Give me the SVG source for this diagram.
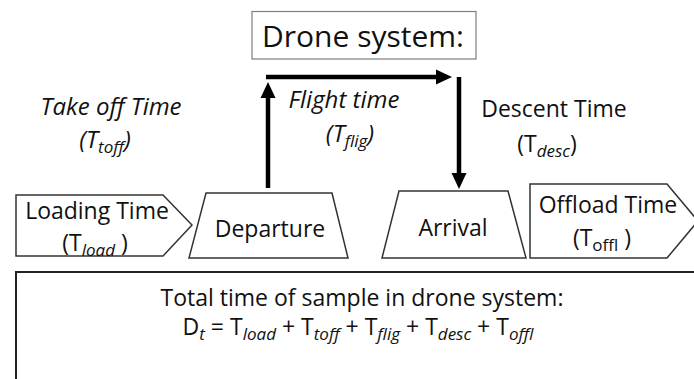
<svg xmlns="http://www.w3.org/2000/svg" width="694" height="379" viewBox="0 0 694 379">
<style>
  text { font-family: "Open Sans", "Noto Sans", sans-serif; fill: #111; text-anchor: middle; }
  .lbl { font-size: 23px; }
  .it { font-style: italic; font-size: 24px; }
  .sub { font-size: 17px; }
  .subi { font-size: 17px; font-style: italic; }
  .shape { fill: #fff; stroke: #333; stroke-width: 1.5; }
  .conn { stroke: #000; stroke-width: 4.5; fill: none; marker-end: url(#head); }
</style>
<defs>
  <marker id="head" markerUnits="userSpaceOnUse" markerWidth="16" markerHeight="16" viewBox="0 0 16 16" refX="0" refY="8" orient="auto">
    <path d="M0,0.5 L16,8 L0,15.5 z" fill="#000"/>
  </marker>
</defs>
<rect width="694" height="379" fill="#fff"/>

<g id="drone-system">
  <rect x="252" y="11.5" width="224" height="47.5" fill="#fff" stroke="#7f7f7f" stroke-width="1.2"/>
  <text x="363" y="47" style="font-size:30px">Drone system:</text>
</g>

<g id="takeoff-label">
  <text class="it" x="111" y="115">Take off Time</text>
  <text class="it" x="105" y="148">(T<tspan class="sub" dy="5">toff</tspan><tspan dy="-5">)</tspan></text>
</g>

<g id="flight-label">
  <text class="it" x="344" y="108">Flight time</text>
  <text class="it" x="350" y="142">(T<tspan class="sub" dy="5">flig</tspan><tspan dy="-5">)</tspan></text>
</g>

<g id="descent-label">
  <text class="lbl" x="554" y="117">Descent Time</text>
  <text class="lbl" x="547" y="152">(T<tspan class="subi" dy="5">desc</tspan><tspan dy="-5">)</tspan></text>
</g>

<g id="loading">
  <path class="shape" d="M16,195 H163 L192,225 L163,256 H16 Z"/>
  <text class="lbl" x="97" y="219">Loading Time</text>
  <text class="lbl" x="95" y="251">(T<tspan class="subi" dy="5">load</tspan><tspan dy="-5"> )</tspan></text>
</g>

<g id="departure">
  <path class="shape" d="M206,193 H332 L348,258 H189 Z"/>
  <text class="lbl" x="270" y="237">Departure</text>
</g>

<g id="arrival">
  <path class="shape" d="M399,191 H508 L526,258 H382 Z"/>
  <text class="lbl" x="453" y="236">Arrival</text>
</g>

<g id="offload">
  <path class="shape" d="M530,184 H667 L698,221 L667,258 H530 Z"/>
  <text class="lbl" x="608" y="213">Offload Time</text>
  <text class="lbl" x="602" y="246">(T<tspan class="sub" dy="5">offl</tspan><tspan dy="-5"> )</tspan></text>
</g>

<g id="total">
  <rect x="16" y="272" width="700" height="130" fill="#fff" stroke="#222" stroke-width="2"/>
  <text x="362" y="306" style="font-size:23px">Total time of sample in drone system:</text>
  <text x="358" y="335" style="font-size:23px">D<tspan class="subi" dy="5">t</tspan><tspan dy="-5"> = T</tspan><tspan class="subi" dy="5">load</tspan><tspan dy="-5">  + T</tspan><tspan class="subi" dy="5">toff</tspan><tspan dy="-5">  + T</tspan><tspan class="subi" dy="5">flig</tspan><tspan dy="-5"> + T</tspan><tspan class="subi" dy="5">desc</tspan><tspan dy="-5"> + T</tspan><tspan class="subi" dy="5">offl</tspan></text>
</g>

<g id="connectors">
  <line class="conn" x1="268" y1="188" x2="268" y2="98"/>
  <line class="conn" x1="266" y1="77" x2="436" y2="77"/>
  <line class="conn" x1="459" y1="77" x2="459" y2="173"/>
</g>
</svg>
